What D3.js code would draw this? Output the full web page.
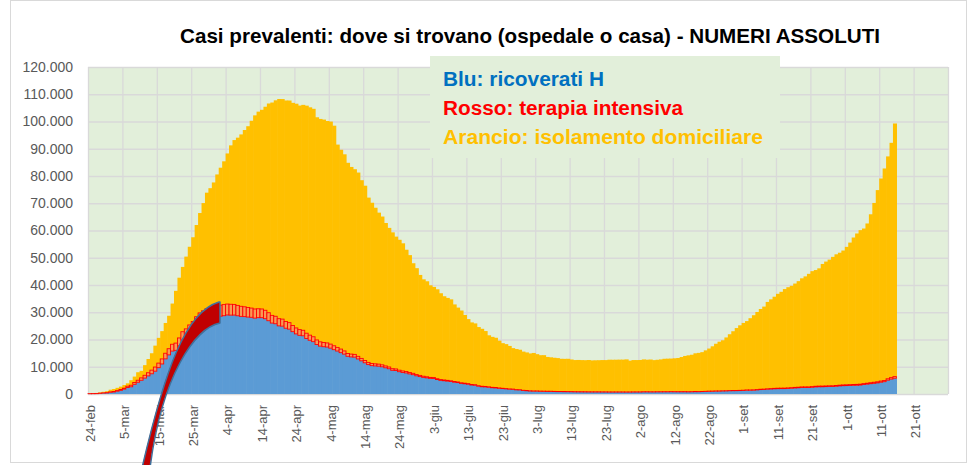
<!DOCTYPE html>
<html>
<head>
<meta charset="utf-8">
<script src="https://cdn.jsdelivr.net/npm/d3@7"></script>
<style>
  html, body { margin: 0; padding: 0; background: #fff; }
  svg { display: block; font-family: "Liberation Sans", Arial, sans-serif; }
</style>
</head>
<body>
<svg id="chart" width="971" height="465"></svg>
<script>
// ---------- dati ----------
const startDate = "24-feb";
const endDate = "31-ott";

// ricoverati con sintomi, 24-feb .. 15-ott
const ricoverati = [
  101,114,128,248,345,401,
  639,742,1034,1346,1790,2394,2651,3557,4316,5038,5838,6650,7426,8372,9663,11025,12894,14363,15757,16020,17708,19846,20692,21937,23112,24753,26029,26676,27386,27795,28192,
  28403,28540,28741,29010,28949,28976,28718,28485,28399,28242,28144,27847,28023,28011,27643,26893,26033,25786,25007,24906,24134,23805,22871,22068,21533,21372,20353,19723,19210,18149,
  17569,17357,17242,16823,16270,15769,15174,14636,13834,13618,13539,12865,12172,11453,10792,10400,10311,10207,9991,9624,9269,8695,8613,8185,7917,7729,7379,7094,6680,6387,6099,
  5916,5742,5693,5301,5002,4864,4729,4581,4320,4183,3893,3747,3594,3301,3206,2867,2662,2614,2474,2301,2231,2090,1983,1883,1762,1706,1522,1486,1279,1188,
  1090,1044,1041,988,968,938,940,893,865,869,838,832,824,791,781,774,767,753,746,747,744,732,730,713,713,715,715,713,703,705,731,
  731,732,777,779,764,761,782,789,799,797,830,808,800,802,808,787,807,843,836,880,919,980,994,1045,1058,1106,1128,1186,1209,1226,1253,
  1294,1380,1380,1400,1505,1617,1646,1760,1836,1907,1952,1973,1977,2050,2122,2222,2285,2378,2380,2395,2475,2604,2657,2658,2707,2760,2768,2846,2971,3048,
  3082,3142,3196,3220,3287,3487,3625,3782,3925,4086,4336,4519,5076,5470,5796
];

// terapia intensiva
const terapiaIntensiva = [
  26,35,36,56,64,105,
  140,166,229,295,351,462,567,650,733,877,1028,1153,1328,1518,1672,1851,2060,2257,2498,2655,2857,3009,3204,3396,3489,3612,3732,3856,3906,3981,4023,
  4035,4053,4068,3994,3977,3898,3792,3693,3605,3497,3381,3343,3260,3186,3079,2936,2812,2733,2635,2573,2471,2384,2267,2173,2102,2009,1956,1863,1795,1694,
  1578,1539,1501,1479,1427,1333,1311,1168,1034,1027,999,952,893,855,808,775,762,749,716,676,640,595,572,553,541,521,505,489,450,435,424,
  408,353,338,316,293,287,283,263,249,236,227,220,209,207,209,181,178,168,161,152,148,127,115,107,103,97,90,87,82,87,
  79,75,74,72,71,74,69,71,67,64,66,65,63,62,61,59,57,49,48,49,49,48,48,41,41,40,40,41,38,41,42,
  42,41,42,41,40,41,41,42,45,42,42,49,55,56,58,55,56,58,59,58,64,66,69,69,66,65,69,68,69,74,86,
  94,107,109,120,121,133,142,143,150,164,175,174,182,187,201,207,208,215,222,221,239,239,242,244,246,247,254,264,271,280,
  291,297,303,319,323,323,337,358,387,390,420,452,514,539,586
];

// isolamento domiciliare
const isolamento = [
  94,162,221,284,412,543,
  798,927,1000,1065,1155,1060,1843,2180,2936,2599,3724,5036,6201,7860,9268,10197,11108,12090,14935,19185,22116,23783,26522,28697,30920,33648,36653,39533,42588,43752,45420,
  48134,50456,52579,55270,58320,60313,61557,63084,64873,66534,68744,71063,72333,73094,74696,76778,78117,79252,80615,80758,81104,81510,81710,82286,82212,82722,83504,83619,83652,81708,
  81796,81808,81436,81678,80770,74426,73139,72157,69974,68679,67950,67449,65392,64132,60470,59012,57278,55597,54422,52452,51051,50032,48567,47856,46842,44692,43082,40403,39045,36869,35552,
  35043,33798,33266,32812,31681,30726,30250,29886,28303,27291,26517,25030,23682,22766,22494,21521,21085,20319,18908,18519,18258,17356,16557,16313,15773,15033,14884,14675,14202,13980,
  13715,13941,13506,13182,13213,12583,12450,12339,12247,11986,11990,12023,11778,11603,11651,11607,11580,11671,11528,11572,11611,11676,11664,11827,11812,11826,11854,11862,11966,11484,11684,
  11684,11709,11874,11761,11845,11632,11742,11863,12080,12129,12133,12245,12358,12709,13096,13350,13543,14034,14194,14422,15031,15635,16440,17324,18071,18543,19556,20678,21757,22905,23866,
  24690,25267,26328,27395,28473,29444,30290,31886,32748,33637,34640,35356,36350,36950,37389,38103,38920,39864,40559,41482,42365,42646,43215,44816,45640,46316,47301,48153,48606,49319,
  50624,52127,53930,55364,56524,56920,58614,61812,65798,70353,74319,77793,81603,86165,92884
];

const tickLabels = ["24-feb","5-mar","15-mar","25-mar","4-apr","14-apr","24-apr","4-mag","14-mag","24-mag",
  "3-giu","13-giu","23-giu","3-lug","13-lug","23-lug","2-ago","12-ago","22-ago","1-set","11-set","21-set",
  "1-ott","11-ott","21-ott"];

const yTicks = [0,10000,20000,30000,40000,50000,60000,70000,80000,90000,100000,110000,120000];

const titleText = "Casi prevalenti: dove si trovano (ospedale o casa) - NUMERI ASSOLUTI";
const legendLabels = ["Blu: ricoverati H", "Rosso: terapia intensiva", "Arancio: isolamento domiciliare"];

// ---------- stile ----------
const W = 971, H = 465;
const plot = { left: 88, right: 948, top: 67, bottom: 394 };
const colors = { ric: "#5B9BD5", ti: "#FF0000", tiFill: "#F99A55", iso: "#FFC000" };
const legendColors = ["#0070C0", "#FF0000", "#FFC000"];
const gridColor = "#D9D9D9";
const bgGreen = "#E2EFDA";

const months = { gen:0, feb:1, mar:2, apr:3, mag:4, giu:5, lug:6, ago:7, set:8, ott:9, nov:10, dic:11 };
const parseIt = s => { const [d, m] = s.split("-"); return new Date(Date.UTC(2020, months[m], +d)); };
const itLocale = d3.formatLocale({ decimal: ",", thousands: ".", grouping: [3], currency: ["€", ""] });
const fmt = itLocale.format(",");

const svg = d3.select("#chart");

const x = d3.scaleUtc()
  .domain([parseIt(startDate), parseIt(endDate)])
  .range([plot.left, plot.right]);
const y = d3.scaleLinear().domain([0, 120000]).range([plot.bottom, plot.top]);
const slot = x(d3.utcDay.offset(x.domain()[0], 1)) - x(x.domain()[0]);

// sfondo e cornice
svg.append("rect").attr("width", W).attr("height", H).attr("fill", "#fff");
svg.append("rect")
  .attr("x", 10.5).attr("y", 0.5).attr("width", 956).attr("height", 462)
  .attr("fill", "none").attr("stroke", gridColor);

svg.append("rect")
  .attr("x", plot.left).attr("y", plot.top)
  .attr("width", plot.right - plot.left).attr("height", plot.bottom - plot.top)
  .attr("fill", bgGreen);

// griglia
const tickDates = tickLabels.map(parseIt);

svg.append("g")
  .attr("transform", `translate(${plot.left},0)`)
  .call(d3.axisLeft(y).tickValues(yTicks).tickSize(-(plot.right - plot.left)).tickFormat(""))
  .call(g => g.select(".domain").remove())
  .call(g => g.selectAll("line").attr("stroke", gridColor).attr("stroke-width", 1.3));

svg.append("g")
  .attr("transform", `translate(0,${plot.bottom})`)
  .call(d3.axisBottom(x).tickValues(tickDates.concat([x.domain()[1]]))
    .tickSize(-(plot.bottom - plot.top)).tickFormat(""))
  .call(g => g.select(".domain").remove())
  .call(g => g.selectAll("line").attr("stroke", gridColor).attr("stroke-width", 1.3));

// barre impilate
const days = ricoverati.map((v, i) => ({
  date: d3.utcDay.offset(x.domain()[0], i),
  ric: v, ti: terapiaIntensiva[i], iso: isolamento[i]
}));
const series = d3.stack().keys(["ric", "ti", "iso"])(days);

function drawLayer(layer, fill, stroke) {
  const g = svg.append("g");
  g.selectAll("rect").data(layer).join("rect")
    .attr("x", d => x(d.data.date))
    .attr("width", stroke ? slot : slot + 0.6)
    .attr("y", d => y(d[1]))
    .attr("height", d => Math.max(0, y(d[0]) - y(d[1])))
    .attr("fill", fill)
    .attr("stroke", stroke || "none")
    .attr("stroke-width", stroke ? 0.9 : 0);
}
drawLayer(series[0], colors.ric);
drawLayer(series[2], colors.iso);
drawLayer(series[1], colors.tiFill, colors.ti);

// riquadro legenda
svg.append("rect")
  .attr("x", 430).attr("y", 56).attr("width", 350).attr("height", 102)
  .attr("fill", bgGreen);

const legendWidths = [161, 240, 320];
svg.append("g").selectAll("text").data(legendLabels).join("text")
  .attr("x", 443)
  .attr("y", (d, i) => 86 + i * 29)
  .attr("fill", (d, i) => legendColors[i])
  .attr("font-size", 20).attr("font-weight", "bold")
  .attr("textLength", (d, i) => legendWidths[i])
  .attr("lengthAdjust", "spacingAndGlyphs")
  .text(d => d);

// asse Y
svg.append("g")
  .attr("transform", "translate(73,0)")
  .call(d3.axisLeft(y).tickValues(yTicks).tickSize(0).tickPadding(0).tickFormat(fmt))
  .call(g => g.select(".domain").remove())
  .call(g => g.selectAll("text").attr("fill", "#595959").attr("font-size", 14)
    .attr("font-family", "'Liberation Sans', Arial, sans-serif"));

// asse X
svg.append("g")
  .attr("transform", `translate(0,${plot.bottom})`)
  .call(d3.axisBottom(x).tickValues(tickDates).tickSize(0).tickFormat((d, i) => tickLabels[i]))
  .call(g => g.select(".domain").remove())
  .call(g => g.selectAll("text")
    .attr("fill", "#595959").attr("font-size", 13)
    .attr("font-family", "'Liberation Sans', Arial, sans-serif")
    .attr("x", 0).attr("y", 0).attr("dy", "0.35em")
    .attr("text-anchor", "end")
    .attr("transform", `translate(${slot / 2},11) rotate(-90)`));

// titolo
svg.append("text")
  .attr("x", 530).attr("y", 43)
  .attr("text-anchor", "middle")
  .attr("font-size", 21).attr("font-weight", "bold").attr("fill", "#000")
  .attr("textLength", 700).attr("lengthAdjust", "spacingAndGlyphs")
  .text(titleText);

// freccia curva
svg.append("path")
  .attr("d", "M142,468 C165,370 185,312 219,302 L220,302 L220,323 C195,328 162,375 150,468 Z")
  .attr("fill", "#C00000")
  .attr("stroke", "#41719C")
  .attr("stroke-width", 1.5)
  .attr("stroke-linejoin", "round");
</script>
</body>
</html>
